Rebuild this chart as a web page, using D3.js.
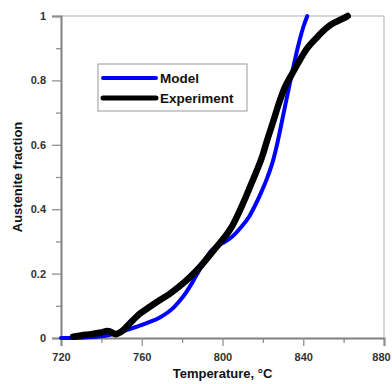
<!DOCTYPE html>
<html>
<head>
<meta charset="utf-8">
<script src="https://cdn.jsdelivr.net/npm/d3@7"></script>
<style>
  body { margin: 0; background: #fff; }
  svg text { font-family: "Liberation Sans", Arial, sans-serif; font-weight: bold; }
</style>
</head>
<body>
<div id="chart"></div>
<script>
// Model curve (temperature in °C, austenite fraction)
const modelT = [720, 725, 730, 736, 742, 747, 752, 758, 764, 769, 773, 776, 779, 782, 785, 788, 791, 794, 797, 800, 803, 806, 809.5, 813, 816, 819, 822, 825, 827, 830, 834, 838, 840, 842];
const modelF = [0, 0, 0.001, 0.003, 0.007, 0.014, 0.024, 0.036, 0.05, 0.064, 0.08, 0.096, 0.117, 0.142, 0.172, 0.205, 0.238, 0.268, 0.284, 0.295, 0.306, 0.322, 0.346, 0.375, 0.41, 0.45, 0.495, 0.55, 0.6, 0.69, 0.81, 0.92, 0.965, 1.0];

// Experiment curve
const expT = [726, 730, 735, 740, 743, 745, 747, 750, 754, 759, 764, 769, 774, 779, 784, 789, 793, 796, 800, 805, 808, 811, 814, 817, 820, 822, 825, 828, 831, 834, 838, 842, 847, 851, 855, 859, 862];
const expF = [0.004, 0.008, 0.012, 0.017, 0.022, 0.018, 0.012, 0.02, 0.045, 0.075, 0.097, 0.118, 0.138, 0.162, 0.19, 0.222, 0.252, 0.275, 0.305, 0.35, 0.388, 0.43, 0.475, 0.52, 0.57, 0.612, 0.67, 0.73, 0.78, 0.815, 0.86, 0.9, 0.935, 0.96, 0.978, 0.99, 1.0];

const xTicks = [720, 760, 800, 840, 880];
const yTicks = [0, 0.2, 0.4, 0.6, 0.8, 1];
const xMinor = [740, 780, 820, 860];
const yMinor = [0.1, 0.3, 0.5, 0.7, 0.9];

const seriesNames = ["Model", "Experiment"];
const seriesColors = ["#0000ff", "#000000"];

const W = 392, H = 384;
const margin = { top: 16, right: 8, bottom: 46, left: 61 };
const width = W - margin.left - margin.right;
const height = H - margin.top - margin.bottom;

const svg = d3.select("#chart")
    .append("svg")
    .attr("width", W)
    .attr("height", H);

const g = svg.append("g")
    .attr("transform", `translate(${margin.left},${margin.top})`);

const x = d3.scaleLinear().domain([720, 880]).range([0, width]);
const y = d3.scaleLinear().domain([0, 1]).range([height, 0]);

// light frame on top and right
g.append("line")
    .attr("x1", 0).attr("x2", width).attr("y1", 0).attr("y2", 0)
    .attr("stroke", "#c8c8c8").attr("stroke-width", 1.5);
g.append("line")
    .attr("x1", width).attr("x2", width).attr("y1", 0).attr("y2", height)
    .attr("stroke", "#c8c8c8").attr("stroke-width", 1.5);

// minor ticks
g.append("g")
    .attr("transform", `translate(0,${height})`)
    .call(d3.axisBottom(x).tickValues(xMinor).tickSize(5).tickFormat(""))
    .call(a => a.select(".domain").remove());
g.append("g")
    .call(d3.axisLeft(y).tickValues(yMinor).tickSize(5).tickFormat(""))
    .call(a => a.select(".domain").remove());

// major axes
const xAxis = g.append("g")
    .attr("transform", `translate(0,${height})`)
    .call(d3.axisBottom(x).tickValues(xTicks).tickSize(8).tickPadding(7).tickFormat(d3.format("d")));
g.append("g")
    .call(d3.axisLeft(y).tickValues(yTicks).tickSize(9).tickPadding(6).tickFormat(d => d));

g.selectAll(".domain").attr("stroke", "#808080").attr("stroke-width", 2);
g.selectAll(".tick line").attr("stroke", "#909090").attr("stroke-width", 1.3);
g.selectAll(".tick text").attr("fill", "#333").style("font-size", "11px");

// keep the last x label inside the picture
xAxis.selectAll(".tick text").filter(d => d === 880).attr("dx", "-3");

// curves
const line = d3.line()
    .x(d => x(d[0]))
    .y(d => y(d[1]))
    .curve(d3.curveMonotoneX);

const modelData = modelT.map((t, i) => [t, modelF[i]]);
const expData = expT.map((t, i) => [t, expF[i]]);

g.append("path")
    .datum(modelData)
    .attr("fill", "none")
    .attr("stroke", seriesColors[0])
    .attr("stroke-width", 4)
    .attr("stroke-linecap", "round")
    .attr("d", line);

g.append("path")
    .datum(expData)
    .attr("fill", "none")
    .attr("stroke", seriesColors[1])
    .attr("stroke-width", 6.5)
    .attr("stroke-linecap", "round")
    .attr("stroke-linejoin", "round")
    .attr("d", line);

// legend
const legend = svg.append("g").attr("transform", "translate(98,64)");
legend.append("rect")
    .attr("width", 149).attr("height", 47)
    .attr("fill", "#fff")
    .attr("stroke", "#999").attr("stroke-width", 1);
seriesNames.forEach((name, i) => {
    const ly = 14 + i * 20;
    legend.append("line")
        .attr("x1", 5).attr("x2", 58).attr("y1", ly).attr("y2", ly)
        .attr("stroke", seriesColors[i])
        .attr("stroke-width", i === 0 ? 4 : 5)
        .attr("stroke-linecap", "round");
    legend.append("text")
        .attr("x", 62).attr("y", ly + 5)
        .attr("fill", "#111")
        .style("font-size", "13.5px")
        .text(name);
});

// axis titles
svg.append("text")
    .attr("x", margin.left + width / 2)
    .attr("y", 378)
    .attr("text-anchor", "middle")
    .attr("fill", "#111")
    .style("font-size", "13px")
    .text("Temperature, °C");

svg.append("text")
    .attr("transform", `translate(22,${margin.top + height / 2}) rotate(-90)`)
    .attr("text-anchor", "middle")
    .attr("fill", "#111")
    .style("font-size", "13px")
    .text("Austenite fraction");
</script>
</body>
</html>
